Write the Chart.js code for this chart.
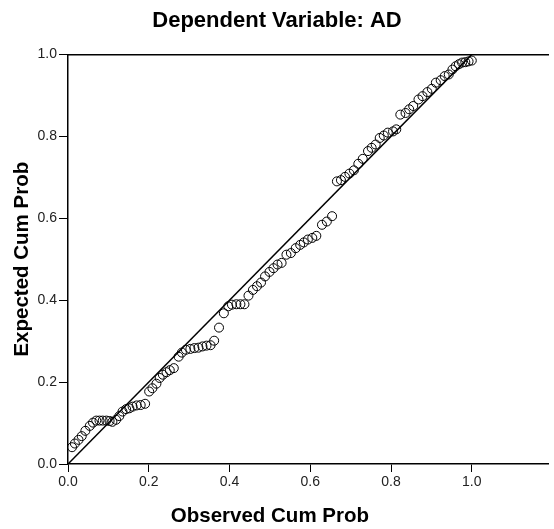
<!DOCTYPE html>
<html>
<head>
<meta charset="utf-8">
<script src="https://cdn.jsdelivr.net/npm/chart.js@4"></script>
<style>
  body { margin: 0; background: #fff; }
</style>
</head>
<body>
<canvas id="ppChart" width="554" height="529"></canvas>
<script>
// observed cumulative probability (x) and expected cumulative probability (y)
var observed = [
    0.010, 0.017, 0.026, 0.034, 0.043, 0.054, 0.062, 0.070, 0.078, 0.086,
    0.095, 0.103, 0.110, 0.119, 0.127, 0.135, 0.144, 0.152, 0.160, 0.170,
    0.180, 0.191, 0.201, 0.209, 0.219, 0.227, 0.235, 0.244, 0.252, 0.262,
    0.274, 0.282, 0.292, 0.303, 0.313, 0.323, 0.333, 0.343, 0.353, 0.362,
    0.374, 0.386, 0.397, 0.406, 0.417, 0.427, 0.437, 0.447, 0.458, 0.468,
    0.478, 0.488, 0.499, 0.509, 0.519, 0.529, 0.541, 0.552, 0.564, 0.575,
    0.584, 0.594, 0.605, 0.615, 0.629, 0.641, 0.654, 0.666, 0.676, 0.686,
    0.697, 0.708, 0.719, 0.730, 0.743, 0.752, 0.762, 0.772, 0.782, 0.792,
    0.805, 0.813, 0.823, 0.836, 0.845, 0.855, 0.868, 0.878, 0.890, 0.901,
    0.911, 0.923, 0.933, 0.943, 0.952, 0.960, 0.968, 0.976, 0.984, 0.992,
    1.000
];
var expected = [
    0.041, 0.050, 0.059, 0.068, 0.081, 0.093, 0.101, 0.106, 0.106, 0.106,
    0.106, 0.105, 0.103, 0.108, 0.117, 0.128, 0.134, 0.136, 0.140, 0.143,
    0.144, 0.147, 0.177, 0.185, 0.196, 0.210, 0.218, 0.224, 0.229, 0.234,
    0.262, 0.272, 0.279, 0.281, 0.283, 0.284, 0.287, 0.289, 0.290, 0.301,
    0.333, 0.368, 0.385, 0.389, 0.390, 0.390, 0.390, 0.411, 0.425, 0.434,
    0.443, 0.458, 0.469, 0.478, 0.487, 0.491, 0.511, 0.515, 0.527, 0.535,
    0.541, 0.548, 0.552, 0.557, 0.584, 0.592, 0.605, 0.690, 0.693, 0.701,
    0.709, 0.717, 0.733, 0.745, 0.764, 0.772, 0.780, 0.796, 0.802, 0.809,
    0.812, 0.817, 0.853, 0.857, 0.866, 0.874, 0.890, 0.898, 0.908, 0.916,
    0.931, 0.937, 0.947, 0.951, 0.963, 0.971, 0.976, 0.980, 0.981, 0.983,
    0.985
];
var refLineX = [0, 1];
var refLineY = [0, 1];
var xTickLabels = ["0.0", "0.2", "0.4", "0.6", "0.8", "1.0"];
var yTickLabels = ["0.0", "0.2", "0.4", "0.6", "0.8", "1.0"];

var fontFamily = "'Liberation Sans', Arial, sans-serif";

var points = observed.map(function (v, i) {
    return { x: v, y: expected[i] };
});
var refLine = refLineX.map(function (v, i) {
    return { x: v, y: refLineY[i] };
});

function tickLabel(labels) {
    return function (value) {
        var idx = Math.round(value / 0.2);
        if (Math.abs(value - idx * 0.2) > 1e-6) return "";
        return labels[idx] !== undefined ? labels[idx] : "";
    };
}

// x axis title sits under the middle of the 0..1 range
var xTitlePlugin = {
    id: "xTitle",
    afterDraw: function (chart) {
        var ctx = chart.ctx;
        var xs = chart.scales.x;
        ctx.save();
        ctx.font = "bold 20.5px " + fontFamily;
        ctx.fillStyle = "#000";
        ctx.textAlign = "center";
        ctx.textBaseline = "middle";
        ctx.fillText("Observed Cum Prob", xs.getPixelForValue(0.5), xs.bottom - 13);
        ctx.restore();
    },
};

var ctx = document.getElementById("ppChart").getContext("2d");
var myChart = new Chart(ctx, {
    type: "scatter",
    data: {
        datasets: [
            {
                label: "Observed",
                data: points,
                pointStyle: "circle",
                pointRadius: 4.5,
                pointBorderWidth: 1,
                borderColor: "#000",
                backgroundColor: "rgba(0,0,0,0)",
                clip: false,
                order: 1,
            },
            {
                label: "Reference",
                type: "line",
                data: refLine,
                borderColor: "#000",
                borderWidth: 1.5,
                pointRadius: 0,
                fill: false,
                order: 2,
            },
        ],
    },
    options: {
        responsive: false,
        animation: false,
        layout: {
            padding: { left: 0, right: 0, top: 0, bottom: 0 },
        },
        plugins: {
            legend: { display: false },
            tooltip: { enabled: false },
            title: {
                display: true,
                text: "Dependent Variable: AD",
                color: "#000",
                font: { family: fontFamily, size: 22, weight: "bold" },
                padding: { top: 8, bottom: 20 },
            },
        },
        scales: {
            x: {
                type: "linear",
                position: "bottom",
                min: 0,
                max: 1.19,
                grid: {
                    display: true,
                    drawOnChartArea: false,
                    drawTicks: true,
                    tickLength: 8,
                    color: "#000",
                },
                border: { display: true, color: "#000", width: 1.5 },
                ticks: {
                    stepSize: 0.2,
                    includeBounds: false,
                    maxRotation: 0,
                    padding: 2,
                    color: "#222",
                    font: { family: fontFamily, size: 14 },
                    callback: tickLabel(xTickLabels),
                },
                afterFit: function (scale) {
                    scale.height = 65;
                },
            },
            x2: {
                type: "linear",
                axis: "x",
                position: "top",
                min: 0,
                max: 1.19,
                grid: { display: false },
                ticks: { display: false },
                border: { display: true, color: "#000", width: 1.5 },
                afterFit: function (scale) {
                    scale.height = 0;
                },
            },
            y: {
                type: "linear",
                min: 0,
                max: 1,
                grid: {
                    display: true,
                    drawOnChartArea: false,
                    drawTicks: true,
                    tickLength: 9,
                    color: "#000",
                },
                border: { display: true, color: "#000", width: 1.5 },
                ticks: {
                    stepSize: 0.2,
                    padding: 2,
                    color: "#222",
                    font: { family: fontFamily, size: 14 },
                    callback: tickLabel(yTickLabels),
                },
                title: {
                    display: true,
                    text: "Expected Cum Prob",
                    color: "#000",
                    font: { family: fontFamily, size: 20.5, weight: "bold" },
                    padding: { top: 10, bottom: 0 },
                },
                afterFit: function (scale) {
                    scale.width = 68;
                },
            },
        },
    },
    plugins: [xTitlePlugin],
});
</script>
</body>
</html>
